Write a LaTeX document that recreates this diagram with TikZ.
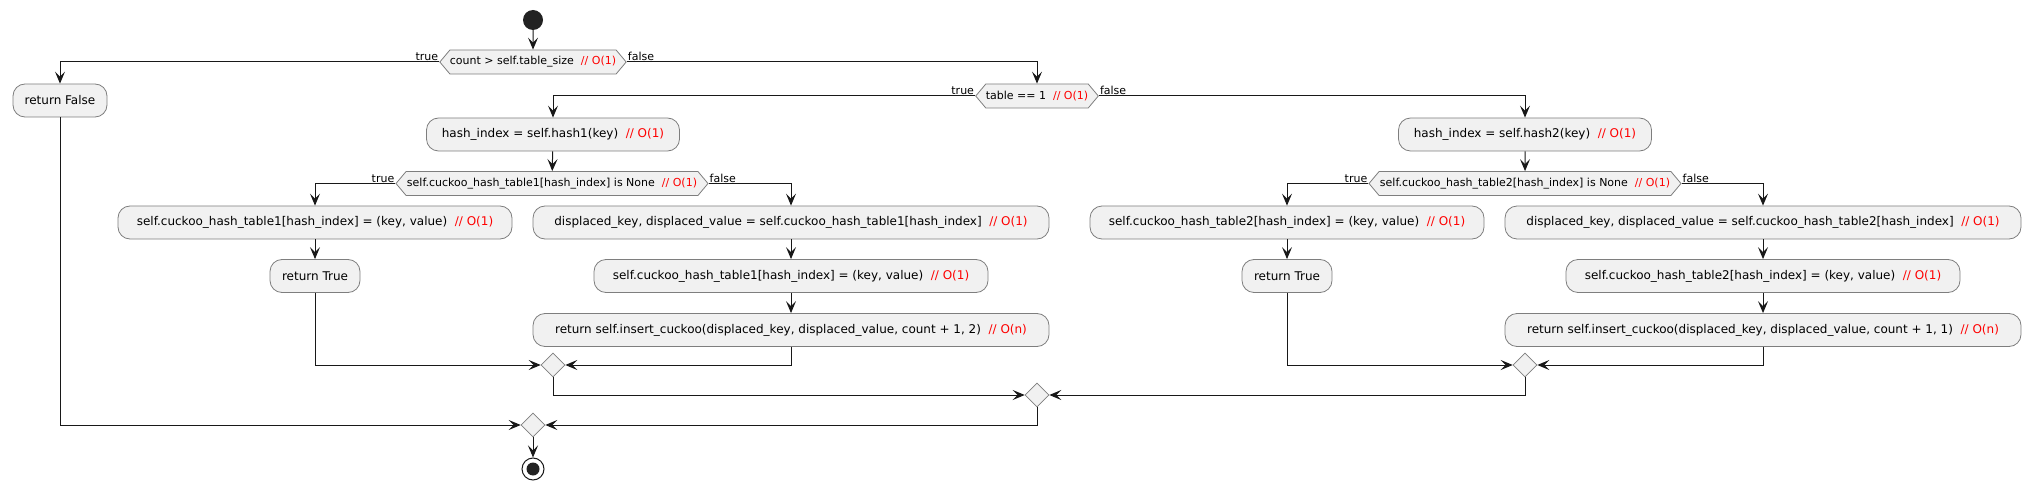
\documentclass[tikz,border=0pt]{standalone}
\usepackage{fontspec}
\setmainfont{DejaVu Sans}
\usetikzlibrary{shapes.geometric, shapes.symbols, arrows.meta}
\definecolor{boxfill}{HTML}{F1F1F1}
\definecolor{boxline}{HTML}{7E7E7E}
\definecolor{flowline}{HTML}{181818}
\definecolor{dotfill}{HTML}{222222}
\newcommand{\cost}[1]{~~\textcolor{red}{// O(#1)}}

\begin{document}
\begin{tikzpicture}[x=1pt, y=-1pt,
    act/.style={draw=boxline, line width=0.8pt, fill=boxfill, rounded corners=12pt, minimum height=33pt, inner sep=0pt, font=\fontsize{12}{14}\selectfont},
    dec/.style={draw=boxline, line width=0.8pt, fill=boxfill, signal, signal to=east and west, signal pointer angle=100, minimum height=24pt, inner xsep=0pt, inner ysep=0pt, font=\fontsize{11}{13}\selectfont},
    merge/.style={draw=boxline, line width=0.6pt, fill=boxfill, diamond, minimum width=24pt, minimum height=24pt, inner sep=0pt},
    lbl/.style={inner sep=1pt, font=\fontsize{11}{13}\selectfont},
    flow/.style={draw=flowline, line width=1pt, -{Stealth[length=12pt, width=10pt, inset=5pt]}}]
    \useasboundingbox (0,0) rectangle (2031,489);

    % ノードを描画
    \node[circle, fill=dotfill, minimum size=20pt, inner sep=0pt] (start) at (533, 20) {};
    \node[dec, minimum width=180pt] (d1) at (533, 62) {count > self.table\_size\cost{1}};
    \node[act, minimum width=94pt] (retF) at (60, 100.5) {return False};
    \node[dec, minimum width=112pt] (d2) at (1037, 96) {table == 1\cost{1}};
    \node[act, minimum width=253pt] (h1) at (553, 134.5) {hash\_index = self.hash1(key)\cost{1}};
    \node[act, minimum width=253pt] (h2) at (1525, 134.5) {hash\_index = self.hash2(key)\cost{1}};

    \node[dec, minimum width=312pt] (d3) at (552, 183.5) {self.cuckoo\_hash\_table1[hash\_index] is None\cost{1}};
    \node[act, minimum width=394pt] (t1a) at (315, 222.5) {self.cuckoo\_hash\_table1[hash\_index] = (key, value)\cost{1}};
    \node[act, minimum width=90pt] (rt1) at (315, 276) {return True};
    \node[act, minimum width=516pt] (f1a) at (791, 222.5) {displaced\_key, displaced\_value = self.cuckoo\_hash\_table1[hash\_index]\cost{1}};
    \node[act, minimum width=394pt] (f1b) at (791, 276) {self.cuckoo\_hash\_table1[hash\_index] = (key, value)\cost{1}};
    \node[act, minimum width=516pt] (f1c) at (791, 330) {return self.insert\_cuckoo(displaced\_key, displaced\_value, count + 1, 2)\cost{n}};

    \node[dec, minimum width=312pt] (d4) at (1525, 183.5) {self.cuckoo\_hash\_table2[hash\_index] is None\cost{1}};
    \node[act, minimum width=394pt] (t2a) at (1287, 222.5) {self.cuckoo\_hash\_table2[hash\_index] = (key, value)\cost{1}};
    \node[act, minimum width=90pt] (rt2) at (1287, 276) {return True};
    \node[act, minimum width=516pt] (f2a) at (1763, 222.5) {displaced\_key, displaced\_value = self.cuckoo\_hash\_table2[hash\_index]\cost{1}};
    \node[act, minimum width=394pt] (f2b) at (1763, 276) {self.cuckoo\_hash\_table2[hash\_index] = (key, value)\cost{1}};
    \node[act, minimum width=516pt] (f2c) at (1763, 330) {return self.insert\_cuckoo(displaced\_key, displaced\_value, count + 1, 1)\cost{n}};

    \node[merge] (m1) at (553, 365) {};
    \node[merge] (m2) at (1525, 365) {};
    \node[merge] (mm) at (1037, 395) {};
    \node[merge] (m0) at (533, 425) {};
    \node[circle, draw=flowline, line width=1pt, fill=white, minimum size=22pt, inner sep=0pt] (stop) at (533, 469) {};
    \node[circle, fill=dotfill, minimum size=13pt, inner sep=0pt] (stopDot) at (stop) {};

    % ラベル
    \node[lbl, anchor=south east] (d1t) at (d1.west) {true};
    \node[lbl, anchor=south west] (d1f) at (d1.east) {false};
    \node[lbl, anchor=south east] (d2t) at (d2.west) {true};
    \node[lbl, anchor=south west] (d2f) at (d2.east) {false};
    \node[lbl, anchor=south east] (d3t) at (d3.west) {true};
    \node[lbl, anchor=south west] (d3f) at (d3.east) {false};
    \node[lbl, anchor=south east] (d4t) at (d4.west) {true};
    \node[lbl, anchor=south west] (d4f) at (d4.east) {false};

    % エッジを描画
    \draw[flow] (start) -- (d1);
    \draw[flow] (d1.west) -| (retF.north);
    \draw[flow] (d1.east) -| (d2.north);
    \draw[flow] (d2.west) -| (h1.north);
    \draw[flow] (d2.east) -| (h2.north);
    \draw[flow] (h1) -- (d3);
    \draw[flow] (h2) -- (d4);
    \draw[flow] (d3.west) -| (t1a.north);
    \draw[flow] (d3.east) -| (f1a.north);
    \draw[flow] (t1a) -- (rt1);
    \draw[flow] (f1a) -- (f1b);
    \draw[flow] (f1b) -- (f1c);
    \draw[flow] (d4.west) -| (t2a.north);
    \draw[flow] (d4.east) -| (f2a.north);
    \draw[flow] (t2a) -- (rt2);
    \draw[flow] (f2a) -- (f2b);
    \draw[flow] (f2b) -- (f2c);
    \draw[flow] (rt1.south) |- (m1.west);
    \draw[flow] (f1c.south) |- (m1.east);
    \draw[flow] (rt2.south) |- (m2.west);
    \draw[flow] (f2c.south) |- (m2.east);
    \draw[flow] (m1.south) |- (mm.west);
    \draw[flow] (m2.south) |- (mm.east);
    \draw[flow] (mm.south) |- (m0.east);
    \draw[flow] (retF.south) |- (m0.west);
    \draw[flow] (m0) -- (stop);
\end{tikzpicture}
\end{document}
